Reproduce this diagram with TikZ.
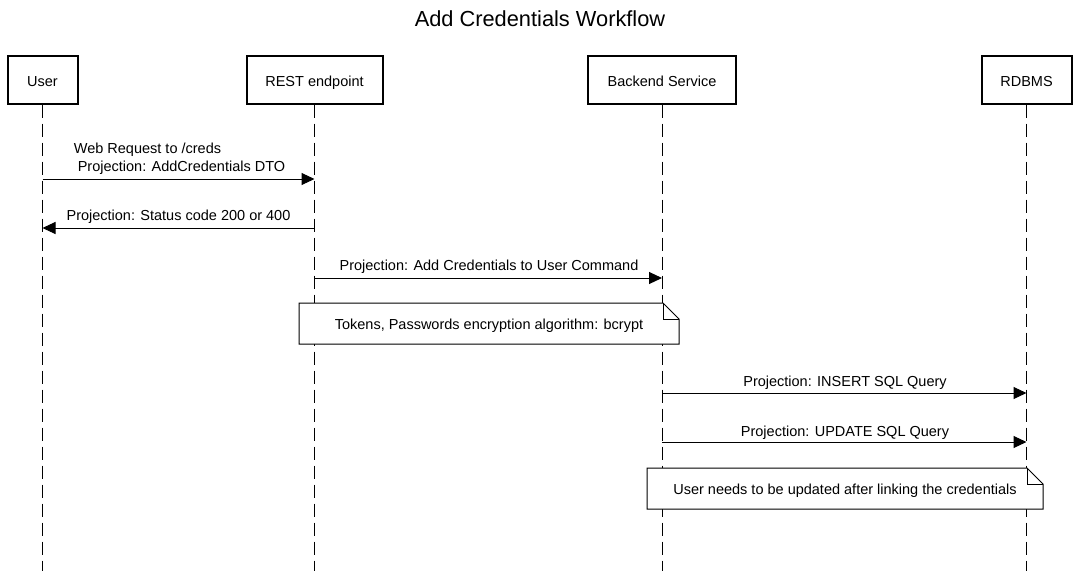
\documentclass[tikz,border=0pt]{standalone}
\usepackage{fontspec}
\setmainfont{Liberation Sans}
\usetikzlibrary{arrows.meta}
\begin{document}
\begin{tikzpicture}[x=1pt,y=-1pt,
  actor/.style={draw,line width=2pt,minimum height=48pt,inner sep=0pt,text height=13.4pt,text depth=0pt,font=\fontsize{14.5}{17}\selectfont},
  life/.style={line width=1pt,dash pattern=on 13pt off 6pt},
  msg/.style={line width=1pt,-{Triangle[length=13pt,width=12pt]}},
  lbl/.style={font=\fontsize{14.5}{17}\selectfont,inner sep=0pt},
  notebox/.style={line width=1pt,fill=white}
]
\useasboundingbox (0,0) rectangle (1081,571);
\node[lbl,font=\fontsize{21.8}{26}\selectfont] (title) at (540,18.5) {Add Credentials Workflow};
% actors
\node[actor,minimum width=70pt] (user) at (42.5,79.5) {User};
\node[actor,minimum width=136pt] (rest) at (314.5,79.5) {REST endpoint};
\node[actor,minimum width=148pt] (back) at (662,79.5) {Backend Service};
\node[actor,minimum width=90pt] (db) at (1026.5,79.5) {RDBMS};
% lifeline ends
\coordinate (userE) at (42.5,571);
\coordinate (restE) at (314.5,571);
\coordinate (backE) at (662,571);
\coordinate (dbE) at (1026.5,571);
\draw[life] (user.south) -- (userE);
\draw[life] (rest.south) -- (restE);
\draw[life] (back.south) -- (backE);
\draw[life] (db.south) -- (dbE);
% message anchors
\coordinate (u1) at (42.5,179); \coordinate (r1) at (314.5,179);
\coordinate (u2) at (42.5,228); \coordinate (r2) at (314.5,228);
\coordinate (r3) at (314.5,278); \coordinate (b3) at (662,278);
\coordinate (b5) at (662,393); \coordinate (d5) at (1026.5,393);
\coordinate (b6) at (662,442); \coordinate (d6) at (1026.5,442);
\draw[msg] (u1) -- (r1);
\node[lbl] (m1a) at (147.5,150) {Web Request to /creds};
\node[lbl] (m1b) at (181.5,168) {Projection: AddCredentials DTO};
\draw[msg] (r2) -- (u2);
\node[lbl] (m2) at (178.5,217) {Projection: Status code 200 or 400};
\draw[msg] (r3) -- (b3);
\node[lbl] (m3) at (489,267) {Projection: Add Credentials to User Command};
\draw[msg] (b5) -- (d5);
\node[lbl] (m5) at (845,383) {Projection: INSERT SQL Query};
\draw[msg] (b6) -- (d6);
\node[lbl] (m6) at (845,433) {Projection: UPDATE SQL Query};
% notes
\draw[notebox] (299,303) -- (663,303) -- (679,319) -- (679,344) -- (299,344) -- cycle;
\draw[line width=1pt] (663,303) -- (663,319) -- (679,319);
\node[lbl] (n1) at (489,326) {Tokens, Passwords encryption algorithm: bcrypt};
\draw[notebox] (647,468) -- (1027,468) -- (1043,484) -- (1043,509) -- (647,509) -- cycle;
\draw[line width=1pt] (1027,468) -- (1027,484) -- (1043,484);
\node[lbl] (n2) at (845,491) {User needs to be updated after linking the credentials};
\end{tikzpicture}
\end{document}
